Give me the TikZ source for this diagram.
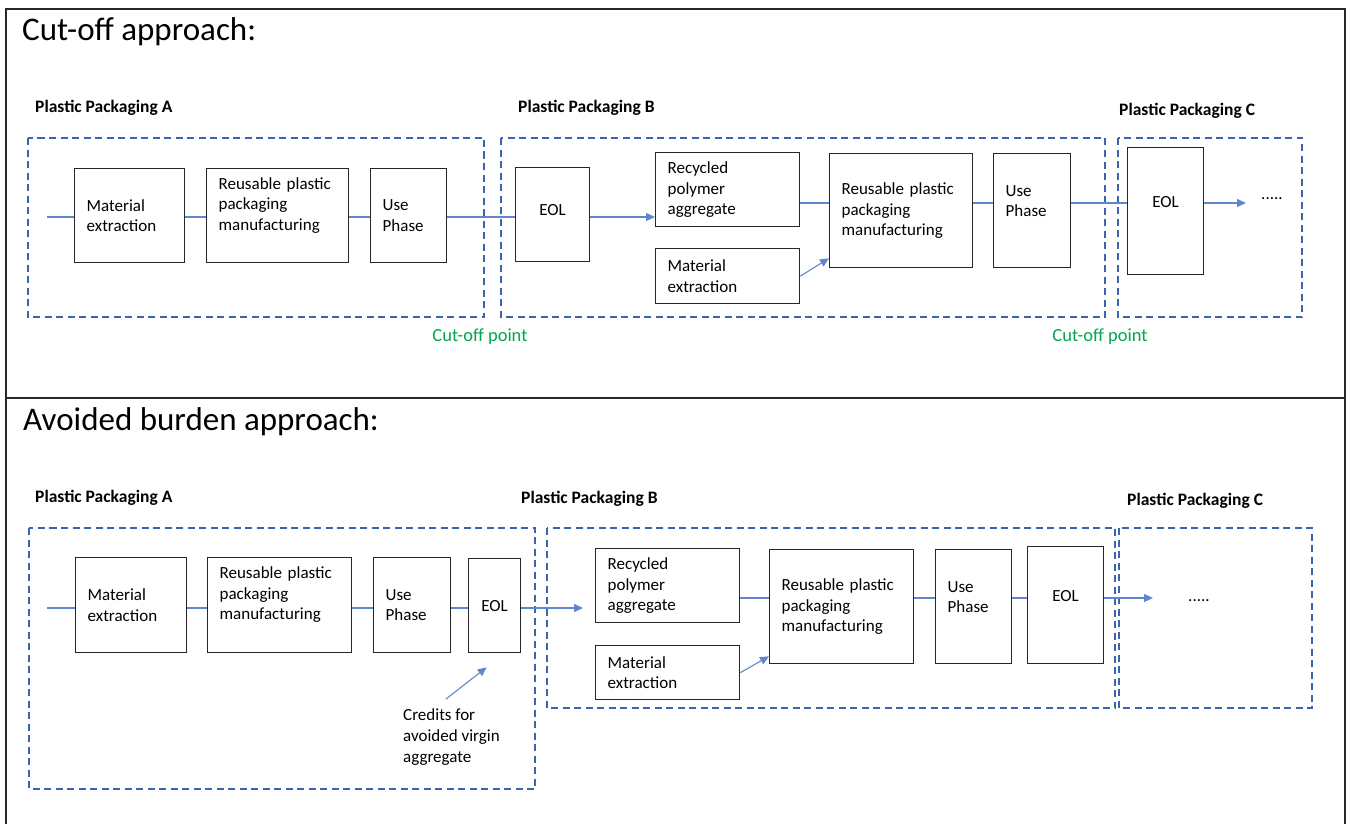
\documentclass[tikz,border=0pt]{standalone}
\usepackage{fontspec}
\setmainfont{Carlito}
\usetikzlibrary{arrows.meta, positioning}
\definecolor{framegray}{RGB}{40,40,40}
\definecolor{boxgray}{RGB}{38,38,38}
\definecolor{scopeblue}{RGB}{59,100,175}
\definecolor{flowblue}{RGB}{68,114,196}
\definecolor{cutgreen}{RGB}{0,166,80}
\tikzset{
  stage/.style 2 args = {rectangle, draw=boxgray, line width=1.3pt,
                  anchor=north west, align=left, inner xsep=12pt, inner ysep=0pt,
                  text width=#1, minimum height=#2,
                  font=\fontsize{17}{20.5}\selectfont},
  eolbox/.style 2 args = {stage={#1}{#2}, align=center},
  lcarea/.style = {draw=scopeblue, line width=1.3pt, dash pattern=on 7pt off 4.5pt},
  flow/.style  = {color=flowblue!85, line width=1.1pt},
  feed/.style  = {flow, -{Triangle[length=9pt, width=8pt]}},
  pack/.style  = {anchor=base west, inner sep=0pt, font=\bfseries\fontsize{17.5}{21}\selectfont},
  cutnote/.style = {text=cutgreen, inner sep=0pt, font=\fontsize{18.5}{22}\selectfont},
  heading/.style = {anchor=base west, inner sep=0pt, font=\fontsize{33}{40}\selectfont},
  note/.style  = {anchor=north west, align=left, inner sep=0pt, font=\fontsize{17}{21}\selectfont}
}

\begin{document}
\begin{tikzpicture}[x=1pt, y=-1pt]
  \useasboundingbox (0,0) rectangle (1348,824);

  % panels
  \draw[framegray, line width=1.5pt] (6,824) -- (6,9) -- (1345,9) -- (1345,824);
  \draw[framegray, line width=1.5pt] (6,398) -- (1345,398);
  \node (cutTitle) [heading] at (22,41)  {Cut-off approach:};
  \node (avTitle)  [heading] at (23,430) {Avoided burden approach:};

  % ---- cut-off approach ----
  \node (cutPackA) [pack] at (35,113)   {Plastic Packaging A};
  \node (cutPackB) [pack] at (518,113)  {Plastic Packaging B};
  \node (cutPackC) [pack] at (1119,116) {Plastic Packaging C};
  \draw[lcarea] (28,138) rectangle (484,317);
  \draw[lcarea] (501,138) rectangle (1105,317);
  \draw[lcarea] (1118,138) rectangle (1302,317);

  \node (cutMatA) [stage={86pt}{94pt}] at (74,168)  {Material\\extraction};
  \node (cutManA) [stage={118pt}{94pt}, text depth=65pt] at (206,168) {Reusable plastic\\packaging\\manufacturing};
  \node (cutUseA) [stage={52pt}{94pt}] at (370,168) {Use\\Phase};
  \node (cutEolB) [eolbox={50pt}{94pt}, text depth=10pt] at (515,167) {EOL};
  \node (cutRecB) [stage={120pt}{74pt}] at (655,152) {Recycled\\polymer\\aggregate};
  \node (cutMatB) [stage={120pt}{55pt}] at (655,248) {Material\\extraction};
  \node (cutManB) [stage={119pt}{114pt}] at (829,153) {Reusable plastic\\packaging\\manufacturing};
  \node (cutUseB) [stage={53pt}{114pt}, text depth=40pt] at (993,153) {Use\\Phase};
  \node (cutEolC) [eolbox={52pt}{127pt}, text depth=19pt] at (1127,147) {EOL};
  \node (cutDots) [anchor=base west, inner sep=0pt, font=\fontsize{17}{20}\selectfont] at (1261,199) {.....};

  \coordinate (cutIn) at ([xshift=-27pt]cutMatA.west);
  \coordinate (cutRowA) at (0,217);
  \coordinate (cutRow) at (0,203);
  \coordinate (cutOut) at (1246,203);
  \draw[flow] (cutIn |- cutRowA) -- (cutMatA.west |- cutRowA);
  \draw[flow] (cutMatA.east |- cutRowA) -- (cutManA.west |- cutRowA);
  \draw[flow] (cutManA.east |- cutRowA) -- (cutUseA.west |- cutRowA);
  \draw[flow] (cutUseA.east |- cutRowA) -- (cutEolB.west |- cutRowA);
  \draw[feed] (cutEolB.east |- cutRowA) -- (cutRecB.west |- cutRowA);
  \draw[flow] (cutRecB.east |- cutRow) -- (cutManB.west |- cutRow);
  \draw[feed] (cutMatB.east) -- ([yshift=10pt]cutManB.south west);
  \draw[flow] (cutManB.east |- cutRow) -- (cutUseB.west |- cutRow);
  \draw[flow] (cutUseB.east |- cutRow) -- (cutEolC.west |- cutRow);
  \draw[feed] (cutEolC.east |- cutRow) -- (cutOut);

  \node (cutPointA) [cutnote] at (480,337)  {Cut-off point};
  \node (cutPointB) [cutnote] at (1100,337) {Cut-off point};

  % ---- avoided burden approach ----
  \node (avPackA) [pack] at (35,502)   {Plastic Packaging A};
  \node (avPackB) [pack] at (521,503)  {Plastic Packaging B};
  \node (avPackC) [pack] at (1127,505) {Plastic Packaging C};
  \draw[lcarea] (29,528) rectangle (535,789);
  \draw[lcarea] (547,528) rectangle (1115,708);
  \draw[lcarea] (1119,528) rectangle (1312,708);

  \node (avMatA) [stage={87pt}{95pt}] at (75,557)  {Material\\extraction};
  \node (avManA) [stage={120pt}{95pt}, text depth=65pt] at (207,557) {Reusable plastic\\packaging\\manufacturing};
  \node (avUseA) [stage={53pt}{95pt}] at (373,557) {Use\\Phase};
  \node (avEolA) [eolbox={28pt}{94pt}] at (468,558) {EOL};
  \node (avRecB) [stage={120pt}{74pt}] at (595,548) {Recycled\\polymer\\aggregate};
  \node (avMatB) [stage={120pt}{54pt}] at (595,645) {Material\\extraction};
  \node (avManB) [stage={120pt}{114pt}] at (769,549) {Reusable plastic\\packaging\\manufacturing};
  \node (avUseB) [stage={52pt}{114pt}, text depth=40pt] at (935,549) {Use\\Phase};
  \node (avEolB) [eolbox={52pt}{117pt}, text depth=18pt] at (1027,546) {EOL};
  \node (avDots) [anchor=base west, inner sep=0pt, font=\fontsize{17}{20}\selectfont] at (1188,601) {.....};
  \node (credits) [note] at (403,708) {Credits for\\avoided virgin\\aggregate};

  \coordinate (avIn) at ([xshift=-28pt]avMatA.west);
  \coordinate (avRowA) at (0,608);
  \coordinate (avRow) at (0,598);
  \coordinate (avOut) at (1153,598);
  \draw[flow] (avIn |- avRowA) -- (avMatA.west |- avRowA);
  \draw[flow] (avMatA.east |- avRowA) -- (avManA.west |- avRowA);
  \draw[flow] (avManA.east |- avRowA) -- (avUseA.west |- avRowA);
  \draw[flow] (avUseA.east |- avRowA) -- (avEolA.west |- avRowA);
  \draw[feed] (avEolA.east |- avRowA) -- ([xshift=-12pt]avRecB.west |- avRowA);
  \draw[flow] (avRecB.east |- avRow) -- (avManB.west |- avRow);
  \draw[feed] (avMatB.east) -- ([yshift=8pt]avManB.south west);
  \draw[flow] (avManB.east |- avRow) -- (avUseB.west |- avRow);
  \draw[flow] (avUseB.east |- avRow) -- (avEolB.west |- avRow);
  \draw[feed] (avEolB.east |- avRow) -- (avOut);
  \draw[feed] ([xshift=43pt, yshift=9pt]credits.north west) -- ([xshift=-8pt, yshift=-14pt]avEolA.south);
\end{tikzpicture}
\end{document}
